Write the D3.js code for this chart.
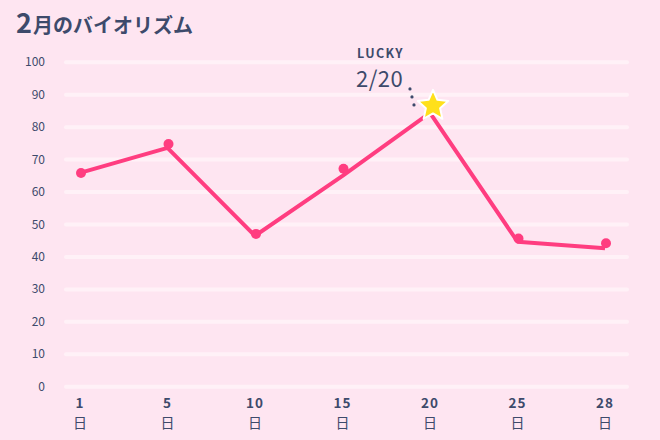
<!DOCTYPE html>
<html>
<head>
<meta charset="utf-8">
<script src="https://cdn.jsdelivr.net/npm/d3@7"></script>
<style>
  html, body { margin: 0; padding: 0; background: #fee5f1; }
  svg { display: block; font-family: "Noto Sans CJK JP", "Noto Sans", sans-serif; }
</style>
</head>
<body>
<div id="chart"></div>
<script>
// February biorhythm
const days = ["1", "5", "10", "15", "20", "25", "28"];
const lineValues = [65.9, 73.6, 46.5, 65.0, 84.4, 44.7, 42.7];
const dotValues = [65.9, 74.8, 47.1, 67.2, null, 45.7, 44.2];
const yTicks = [0, 10, 20, 30, 40, 50, 60, 70, 80, 90, 100];
const luckyDay = "20";

const width = 660, height = 440;
const ink = "#3d4a6b";
const pink = "#ff3d80";

const svg = d3.select("#chart").append("svg")
    .attr("width", width)
    .attr("height", height);

svg.append("rect").attr("width", width).attr("height", height).attr("fill", "#fee5f1");

const x = d3.scalePoint().domain(days).range([80, 605]);
const y = d3.scaleLinear().domain([0, 100]).range([386.7, 62.3]);

// title
const title = svg.append("text")
    .attr("x", 16).attr("y", 33)
    .attr("fill", ink)
    .attr("font-weight", "bold");
title.append("tspan").attr("font-size", 27).text("2");
title.append("tspan").attr("font-size", 20).attr("dx", 1).text("月のバイオリズム");

// grid lines
svg.append("g").selectAll("line")
    .data(yTicks)
    .join("line")
    .attr("x1", 66).attr("x2", 627)
    .attr("y1", d => y(d)).attr("y2", d => y(d))
    .attr("stroke", "#fff1f7")
    .attr("stroke-width", 4)
    .attr("stroke-linecap", "round");

// y labels
svg.append("g").selectAll("text")
    .data(yTicks)
    .join("text")
    .attr("x", 45)
    .attr("y", d => y(d) + 4)
    .attr("text-anchor", "end")
    .attr("font-size", 12)
    .attr("fill", ink)
    .text(d => d);

// x labels
const xl = svg.append("g").selectAll("g")
    .data(days)
    .join("g")
    .attr("transform", d => `translate(${x(d)},0)`);
xl.append("text")
    .attr("y", 408)
    .attr("text-anchor", "middle")
    .attr("font-size", 13.5)
    .attr("font-weight", "bold")
    .attr("letter-spacing", 1)
    .attr("fill", ink)
    .text(d => d);
xl.append("text")
    .attr("y", 428)
    .attr("text-anchor", "middle")
    .attr("font-size", 14)
    .attr("fill", ink)
    .text("日");

// line
const line = d3.line()
    .x((d, i) => x(days[i]))
    .y(d => y(d));
svg.append("path")
    .datum(lineValues)
    .attr("d", line)
    .attr("fill", "none")
    .attr("stroke", pink)
    .attr("stroke-width", 4)
    .attr("stroke-linejoin", "round");

// dots
svg.append("g").selectAll("circle")
    .data(days.map((d, i) => ({ day: d, v: dotValues[i] })).filter(d => d.v !== null))
    .join("circle")
    .attr("cx", d => x(d.day) + 1)
    .attr("cy", d => y(d.v))
    .attr("r", 5)
    .attr("fill", pink);

// lucky star
const li = days.indexOf(luckyDay);
const sx = x(luckyDay) + 3, sy = y(lineValues[li]) - 7;
const starPts = d3.range(10).map(k => {
    const r = k % 2 === 0 ? 16 : 7.5;
    const a = -Math.PI / 2 + k * Math.PI / 5;
    return [sx + r * Math.cos(a), sy + r * Math.sin(a)];
});
svg.append("path")
    .attr("d", d3.line().curve(d3.curveLinearClosed)(starPts))
    .attr("fill", "#ffe01b")
    .attr("stroke", "#ffffff")
    .attr("stroke-width", 2)
    .attr("stroke-linejoin", "round");

// dotted leader
svg.append("g").selectAll("circle")
    .data([0, 1, 2])
    .join("circle")
    .attr("cx", k => sx - 23 + k * 2)
    .attr("cy", k => sy - 17 + k * 8)
    .attr("r", 1.6)
    .attr("fill", ink);

svg.append("text")
    .attr("x", 357).attr("y", 58)
    .attr("font-size", 12.5)
    .attr("font-weight", "bold")
    .attr("letter-spacing", 1.4)
    .attr("fill", ink)
    .text("LUCKY");
svg.append("text")
    .attr("x", 356).attr("y", 87)
    .attr("font-size", 22)
    .attr("letter-spacing", 0.5)
    .attr("fill", ink)
    .text("2/" + luckyDay);
</script>
</body>
</html>
